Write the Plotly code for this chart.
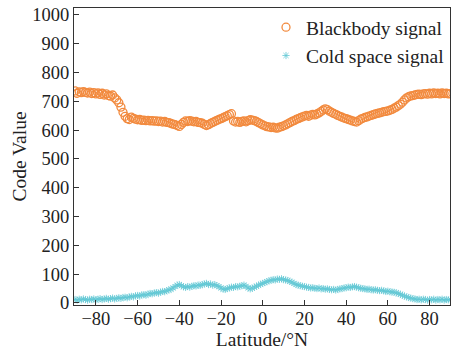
import numpy as np
import plotly.graph_objects as go

latitude = list(range(-90, 91))

blackbody = [
    736, 728, 733, 730, 734, 731, 729, 732, 727, 730,   # -90..-81
    726, 729, 724, 728, 722, 726, 720, 718, 722, 712,   # -80..-71
    705, 695, 680, 662, 648, 640, 637, 645, 641, 638,   # -70..-61
    636, 637, 634, 635, 633, 634, 632, 633, 631, 632,   # -60..-51
    630, 631, 628, 630, 627, 626, 623, 621, 619, 616,   # -50..-41
    613, 620, 627, 632, 630, 633, 631, 629, 630, 627,   # -40..-31
    626, 624, 620, 616, 619, 623, 627, 630, 634, 637,   # -30..-21
    640, 643, 647, 650, 654, 657, 632, 628, 630, 627,   # -20..-11
    630, 632, 629, 633, 636, 635, 633, 630, 626, 622,   # -10..-1
    618, 615, 612, 611, 609, 610, 608, 607, 610, 612,   # 0..9
    615, 618, 622, 626, 630, 633, 637, 640, 643, 646,   # 10..19
    649, 651, 648, 652, 655, 653, 656, 660, 665, 670,   # 20..29
    674, 671, 666, 662, 658, 655, 651, 648, 645, 642,   # 30..39
    640, 637, 635, 632, 630, 628, 633, 638, 641, 644,   # 40..49
    646, 649, 651, 654, 656, 658, 660, 662, 664, 665,   # 50..59
    667, 669, 672, 676, 680, 685, 690, 697, 705, 712,   # 60..69
    716, 719, 720, 722, 724, 725, 723, 726, 727, 725,   # 70..79
    728, 726, 729, 727, 728, 726, 729, 727, 728, 726,   # 80..89
    727,                                                # 90
]

cold_space = [
    12, 10, 13, 11, 14, 12, 10, 13, 12, 14,   # -90..-81
    11, 13, 15, 12, 14, 16, 13, 15, 17, 14,   # -80..-71
    16, 18, 16, 19, 20, 18, 21, 23, 21, 25,   # -70..-61
    26, 24, 28, 29, 27, 31, 33, 32, 35, 36,   # -60..-51
    34, 38, 40, 39, 43, 45, 48, 52, 57, 62,   # -50..-41
    64, 60, 56, 54, 57, 55, 58, 60, 59, 62,   # -40..-31
    61, 64, 66, 68, 64, 66, 62, 64, 60, 57,   # -30..-21
    52, 48, 47, 50, 52, 55, 54, 57, 56, 58,   # -20..-11
    60, 62, 58, 52, 49, 51, 55, 58, 62, 65,   # -10..-1
    68, 71, 74, 77, 79, 81, 80, 83, 82, 84,   # 0..9
    81, 80, 78, 75, 72, 68, 64, 62, 60, 58,   # 10..19
    57, 55, 54, 52, 53, 51, 50, 52, 49, 50,   # 20..29
    48, 49, 47, 46, 47, 45, 47, 49, 50, 52,   # 30..39
    53, 55, 54, 56, 57, 55, 53, 51, 50, 49,   # 40..49
    47, 48, 46, 45, 46, 44, 43, 44, 42, 40,   # 50..59
    41, 39, 38, 37, 35, 33, 30, 27, 24, 21,   # 60..69
    19, 17, 15, 14, 12, 13, 11, 13, 12, 10,   # 70..79
    12, 11, 13, 10, 12, 11, 13, 10, 12, 11,   # 80..89
    12,                                       # 90
]

x_ticks = [-80, -60, -40, -20, 0, 20, 40, 60, 80]
y_ticks = [0, 100, 200, 300, 400, 500, 600, 700, 800, 900, 1000]

font_family = "Liberation Serif, serif"
axis_color = "#333333"
tick_font = dict(family=font_family, size=18.5, color="#222222")
title_font = dict(family=font_family, size=19.5, color="#222222")

fig = go.Figure()
fig.add_trace(go.Scatter(
    x=latitude, y=blackbody, mode="markers", name="Blackbody signal",
    marker=dict(symbol="circle-open", size=8, color="#F28A3E", line=dict(width=1.3, color="#F28A3E")),
))
fig.add_trace(go.Scatter(
    x=latitude, y=cold_space, mode="markers", name="Cold space signal",
    marker=dict(symbol="asterisk-open", size=6, color="#62C8D4", line=dict(width=0.8, color="#62C8D4")),
))

fig.update_layout(
    width=451, height=352,
    margin=dict(l=74, r=1, t=8, b=47),
    paper_bgcolor="white", plot_bgcolor="white",
    font=dict(family=font_family, size=18.5, color="#222222"),
    showlegend=True,
    legend=dict(x=1, xanchor="right", y=1.0, yanchor="top", bgcolor="rgba(0,0,0,0)",
                font=dict(family=font_family, size=19.5), itemwidth=30, tracegroupgap=0),
)
fig.update_xaxes(
    range=[-90.5, 89.8], tickvals=x_ticks, ticks="inside", ticklen=5, tickcolor=axis_color,
    tickfont=tick_font, ticklabelstandoff=-3,
    showline=True, linecolor=axis_color, linewidth=1, mirror=True, showgrid=False, zeroline=False,
    title=dict(text="Latitude/°N", standoff=0, font=title_font),
)
fig.update_yaxes(
    range=[-7, 1024], tickvals=y_ticks, ticks="inside", ticklen=5, tickcolor=axis_color,
    tickfont=tick_font,
    showline=True, linecolor=axis_color, linewidth=1, mirror=True, showgrid=False, zeroline=False,
    title=dict(text="Code Value", standoff=0, font=title_font),
)

fig.write_html("out.html", config={"displayModeBar": False},
               post_script="document.body.style.margin='0';")
